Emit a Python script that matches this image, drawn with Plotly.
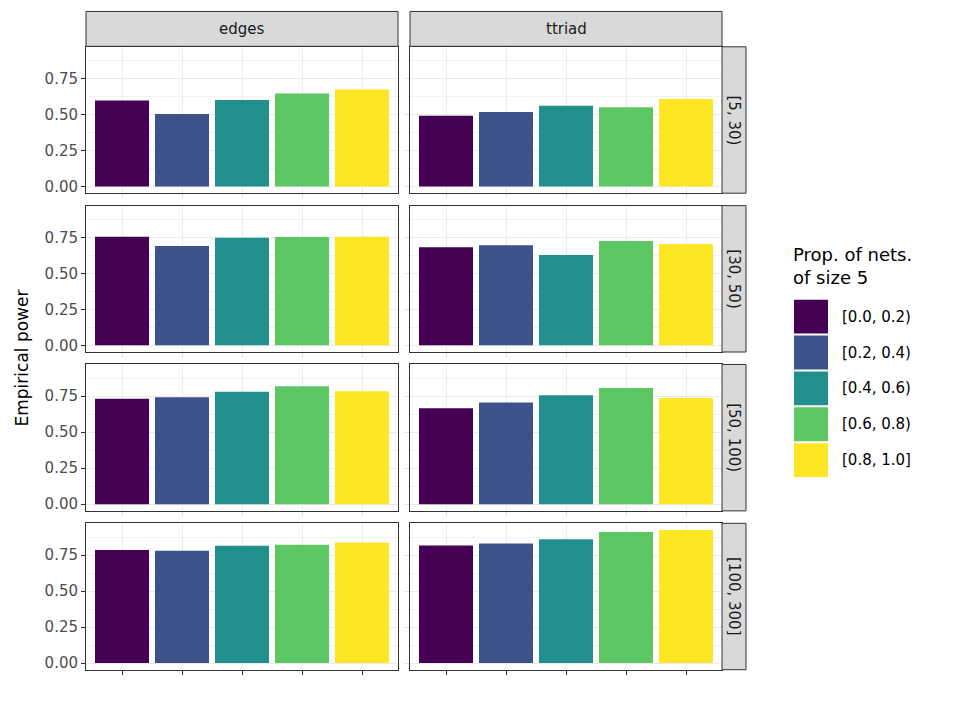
import plotly.graph_objects as go

# ---- data ----
categories = ["[0.0, 0.2)", "[0.2, 0.4)", "[0.4, 0.6)", "[0.6, 0.8)", "[0.8, 1.0]"]
colors = ["#440154", "#3B528B", "#21908C", "#5DC863", "#FDE725"]
row_labels = ["[5, 30)", "[30, 50)", "[50, 100)", "[100, 300]"]
col_labels = ["edges", "ttriad"]

edges_5_30 = [0.598, 0.504, 0.600, 0.646, 0.674]
ttriad_5_30 = [0.492, 0.518, 0.561, 0.550, 0.607]
edges_30_50 = [0.755, 0.690, 0.748, 0.752, 0.755]
ttriad_30_50 = [0.681, 0.695, 0.628, 0.725, 0.704]
edges_50_100 = [0.732, 0.743, 0.780, 0.819, 0.785]
ttriad_50_100 = [0.667, 0.706, 0.757, 0.807, 0.738]
edges_100_300 = [0.785, 0.780, 0.814, 0.821, 0.837]
ttriad_100_300 = [0.816, 0.830, 0.860, 0.910, 0.924]

panels = [
    [edges_5_30, ttriad_5_30],
    [edges_30_50, ttriad_30_50],
    [edges_50_100, ttriad_50_100],
    [edges_100_300, ttriad_100_300],
]

y_ticks = [0, 0.25, 0.5, 0.75]
y_ticktext = ["0.00", "0.25", "0.50", "0.75"]

# ---- layout geometry (pixels) ----
W, H = 959, 719
FONT = "DejaVu Sans"
col_x = [(86, 398), (410, 722)]
row_y = [(47, 194), (206.5, 353.5), (366, 513), (525.5, 672.5)]

ymax = max(max(v) for row in panels for v in row)
yrange = [-0.05 * ymax, 1.05 * ymax]

def px(x):
    return x / W

def py(y):
    return 1 - y / H

fig = go.Figure()
layout = dict(
    width=W, height=H, margin=dict(l=0, r=0, t=0, b=0),
    paper_bgcolor="white", plot_bgcolor="white", showlegend=False,
    barmode="overlay", font=dict(family=FONT, color="#4D4D4D"),
)
shapes = []
annotations = []

for r in range(4):
    for c in range(2):
        k = r * 2 + c + 1
        xa = "x" if k == 1 else f"x{k}"
        ya = "y" if k == 1 else f"y{k}"
        vals = panels[r][c]
        for i, cat in enumerate(categories):
            fig.add_trace(go.Bar(
                x=[i], y=[vals[i]], width=0.9, name=cat,
                marker=dict(color=colors[i], line=dict(width=0)),
                xaxis=xa, yaxis=ya, showlegend=False,
                hovertemplate=f"{col_labels[c]} {row_labels[r]}<br>{cat}: %{{y:.3f}}<extra></extra>",
            ))
        bottom = r == 3
        left = c == 0
        layout["xaxis" if k == 1 else f"xaxis{k}"] = dict(
            domain=[px(col_x[c][0]), px(col_x[c][1])],
            anchor=ya, range=[-0.6, 4.6],
            tickvals=list(range(len(categories))), showticklabels=False,
            ticks="outside", ticklen=4, tickwidth=1,
            tickcolor="#333333" if bottom else "#E0E0E0",
            showgrid=True, gridcolor="#EBEBEB", gridwidth=1.1,
            zeroline=False, showline=True, mirror=True,
            linecolor="#333333", linewidth=1, fixedrange=True,
        )
        layout["yaxis" if k == 1 else f"yaxis{k}"] = dict(
            domain=[py(row_y[r][1]), py(row_y[r][0])],
            anchor=xa, range=yrange,
            tickvals=y_ticks, ticktext=y_ticktext, showticklabels=left,
            ticks="outside", ticklen=4, tickwidth=1,
            tickcolor="#333333" if left else "#E0E0E0",
            tickfont=dict(family=FONT, size=15, color="#4D4D4D"),
            showgrid=True, gridcolor="#EBEBEB", gridwidth=1.1,
            minor=dict(tick0=0, dtick=0.125, showgrid=True, gridcolor="#F2F2F2",
                       gridwidth=0.6, ticks=""),
            zeroline=False, showline=True, mirror=True,
            linecolor="#333333", linewidth=1, fixedrange=True,
        )

# top strips
for c, lab in enumerate(col_labels):
    shapes.append(dict(type="rect", xref="paper", yref="paper",
                       x0=px(col_x[c][0]), x1=px(col_x[c][1]), y0=py(46.5), y1=py(11.5),
                       fillcolor="#D9D9D9", line=dict(color="#333333", width=1)))
    annotations.append(dict(text=lab, xref="paper", yref="paper",
                            x=px((col_x[c][0] + col_x[c][1]) / 2), y=py(29),
                            showarrow=False, xanchor="center", yanchor="middle",
                            font=dict(family=FONT, size=15, color="#1A1A1A")))
# right strips
for r, lab in enumerate(row_labels):
    shapes.append(dict(type="rect", xref="paper", yref="paper",
                       x0=px(722), x1=px(746), y0=py(row_y[r][1]), y1=py(row_y[r][0]),
                       fillcolor="#D9D9D9", line=dict(color="#333333", width=1)))
    annotations.append(dict(text=lab, xref="paper", yref="paper",
                            x=px(734.5), y=py((row_y[r][0] + row_y[r][1]) / 2),
                            showarrow=False, xanchor="center", yanchor="middle", textangle=90,
                            font=dict(family=FONT, size=15, color="#1A1A1A")))

# y axis title
annotations.append(dict(text="Empirical power", xref="paper", yref="paper",
                        x=px(22), y=py(360), showarrow=False, textangle=-90,
                        xanchor="center", yanchor="middle",
                        font=dict(family=FONT, size=17, color="#000000")))

# legend (drawn manually to match large keys)
annotations.append(dict(text="Prop. of nets.<br>of size 5", xref="paper", yref="paper",
                        x=px(791), y=py(243), showarrow=False, xanchor="left", yanchor="top",
                        align="left",
                        font=dict(family=FONT, size=18, color="#000000")))
for i, (cat, col) in enumerate(zip(categories, colors)):
    y0 = 301 + 36 * i
    shapes.append(dict(type="rect", xref="paper", yref="paper",
                       x0=px(794), x1=px(828), y0=py(y0 + 34), y1=py(y0),
                       fillcolor=col, line=dict(width=0)))
    annotations.append(dict(text=cat, xref="paper", yref="paper",
                            x=px(840), y=py(y0 + 17), showarrow=False,
                            xanchor="left", yanchor="middle",
                            font=dict(family=FONT, size=15, color="#000000")))

layout["shapes"] = shapes
layout["annotations"] = annotations
fig.update_layout(**layout)
fig.write_html("out.html")
